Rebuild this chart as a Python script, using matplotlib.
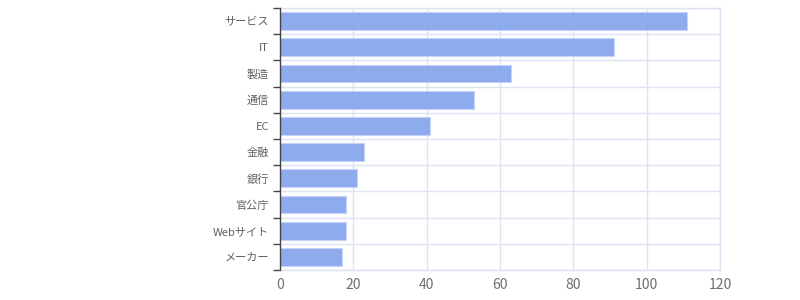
import matplotlib
matplotlib.use("Agg")
import matplotlib.pyplot as plt
import numpy as np

categories = ["サービス", "IT", "製造", "通信", "EC", "金融", "銀行", "官公庁", "Webサイト", "メーカー"]
values = [111, 91, 63, 53, 41, 23, 21, 18, 18, 17]
x_ticks = [0, 20, 40, 60, 80, 100, 120]

plt.rcParams['font.family'] = ['Noto Sans CJK JP', 'DejaVu Sans']

fig = plt.figure(figsize=(8, 3), dpi=100)
ax = fig.add_axes([0.35, 0.1, 0.55, 0.873])

n = len(categories)
pos = np.arange(n)
ax.barh(pos, values, height=0.68, color="#7fa0ec", alpha=0.88,
        edgecolor="#c5d4f7", linewidth=0.8, zorder=3)

ax.set_xlim(0, 120)
ax.set_ylim(n - 0.5, -0.5)
ax.set_xticks(x_ticks)
ax.set_xticklabels([str(t) for t in x_ticks])
ax.set_yticks(pos)
ax.set_yticklabels(categories)
ax.set_yticks(np.arange(n + 1) - 0.5, minor=True)

grid_c = "#dde3f1"
ax.grid(axis="x", which="major", color=grid_c, linewidth=1, zorder=0)
ax.grid(axis="y", which="minor", color=grid_c, linewidth=1, zorder=0)
ax.grid(axis="y", which="major", visible=False)

ax.tick_params(axis="y", which="major", length=0, pad=8, labelsize=8, labelcolor="#606060")
ax.tick_params(axis="y", which="minor", length=5, color="#444444", width=1)
ax.tick_params(axis="x", which="major", length=0, pad=6, labelsize=10, labelcolor="#6e6e6e")

for s in ["top", "right", "bottom"]:
    ax.spines[s].set_color(grid_c)
    ax.spines[s].set_linewidth(1)
ax.spines["left"].set_color("#444444")
ax.spines["left"].set_linewidth(1)
ax.spines["left"].set_zorder(4)

fig.savefig("out.png", dpi=100)
